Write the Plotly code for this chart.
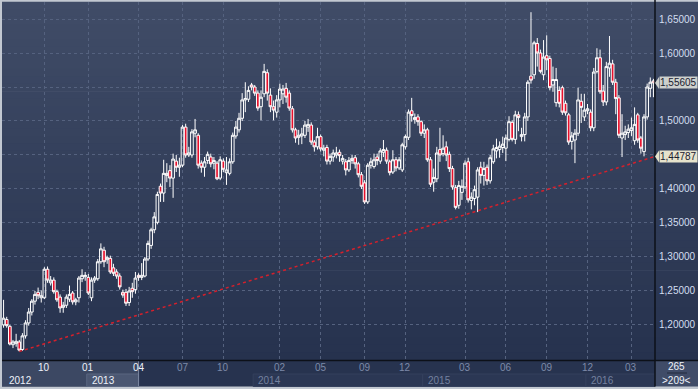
import plotly.graph_objects as go

# ---------------- data (weekly candles) ----------------
opens = [
    1.200, 1.208, 1.198, 1.171, 1.173, 1.175, 1.164, 1.184, 1.203, 1.219,
    1.235, 1.248, 1.240, 1.240, 1.282, 1.262, 1.266, 1.249, 1.241, 1.226,
    1.229, 1.238, 1.247, 1.234, 1.240, 1.268, 1.271, 1.270, 1.240, 1.266,
    1.268, 1.293, 1.310, 1.296, 1.298, 1.284, 1.278, 1.272, 1.248, 1.248,
    1.233, 1.254, 1.252, 1.273, 1.270, 1.272, 1.297, 1.317, 1.340, 1.351,
    1.404, 1.394, 1.420, 1.427, 1.416, 1.441, 1.432, 1.435, 1.491, 1.450,
    1.450, 1.482, 1.479, 1.438, 1.432, 1.442, 1.447, 1.438, 1.438, 1.416,
    1.441, 1.424, 1.423, 1.440, 1.478, 1.487, 1.504, 1.531, 1.532, 1.553,
    1.550, 1.541, 1.521, 1.540, 1.571, 1.538, 1.521, 1.513, 1.531, 1.540,
    1.548, 1.541, 1.518, 1.487, 1.476, 1.478, 1.479, 1.491, 1.494, 1.469,
    1.462, 1.477, 1.457, 1.461, 1.441, 1.447, 1.450, 1.454, 1.441, 1.440,
    1.428, 1.442, 1.446, 1.437, 1.421, 1.409, 1.381, 1.435, 1.433, 1.447,
    1.441, 1.454, 1.457, 1.440, 1.425, 1.443, 1.431, 1.428, 1.462, 1.476,
    1.515, 1.502, 1.506, 1.499, 1.482, 1.487, 1.443, 1.410, 1.415, 1.458,
    1.452, 1.462, 1.451, 1.430, 1.402, 1.376, 1.395, 1.403, 1.440, 1.383,
    1.386, 1.388, 1.432, 1.420, 1.432, 1.412, 1.440, 1.456, 1.458, 1.461,
    1.460, 1.473, 1.498, 1.473, 1.509, 1.477, 1.480, 1.506, 1.566, 1.568,
    1.614, 1.600, 1.568, 1.596, 1.592, 1.553, 1.527, 1.545, 1.549, 1.526,
    1.509, 1.470, 1.472, 1.482, 1.529, 1.506, 1.515, 1.513, 1.490, 1.573,
    1.593, 1.544, 1.528, 1.578, 1.584, 1.557, 1.534, 1.475, 1.480, 1.483,
    1.486, 1.471, 1.509, 1.475, 1.455, 1.506, 1.548, 1.559,
]
highs = [
    1.237, 1.212, 1.200, 1.178, 1.187, 1.178, 1.188, 1.207, 1.225, 1.238,
    1.250, 1.255, 1.251, 1.285, 1.286, 1.272, 1.270, 1.252, 1.245, 1.234,
    1.245, 1.258, 1.250, 1.240, 1.272, 1.282, 1.278, 1.275, 1.270, 1.272,
    1.297, 1.320, 1.315, 1.302, 1.302, 1.290, 1.282, 1.276, 1.252, 1.253,
    1.256, 1.262, 1.278, 1.276, 1.291, 1.300, 1.324, 1.343, 1.366, 1.396,
    1.408, 1.443, 1.438, 1.435, 1.452, 1.450, 1.446, 1.494, 1.496, 1.462,
    1.488, 1.503, 1.482, 1.442, 1.447, 1.455, 1.452, 1.447, 1.441, 1.448,
    1.445, 1.447, 1.445, 1.483, 1.500, 1.512, 1.541, 1.557, 1.551, 1.556,
    1.553, 1.545, 1.545, 1.584, 1.576, 1.548, 1.530, 1.538, 1.555, 1.553,
    1.556, 1.545, 1.522, 1.490, 1.487, 1.490, 1.500, 1.503, 1.498, 1.472,
    1.490, 1.480, 1.465, 1.465, 1.452, 1.458, 1.462, 1.458, 1.450, 1.444,
    1.447, 1.450, 1.450, 1.440, 1.425, 1.413, 1.438, 1.446, 1.452, 1.452,
    1.460, 1.472, 1.461, 1.443, 1.457, 1.447, 1.447, 1.468, 1.480, 1.517,
    1.534, 1.511, 1.510, 1.501, 1.495, 1.490, 1.447, 1.430, 1.462, 1.490,
    1.479, 1.470, 1.455, 1.434, 1.406, 1.412, 1.414, 1.442, 1.446, 1.395,
    1.405, 1.432, 1.440, 1.440, 1.436, 1.450, 1.465, 1.474, 1.470, 1.477,
    1.480, 1.507, 1.501, 1.515, 1.514, 1.490, 1.512, 1.560, 1.660, 1.618,
    1.622, 1.605, 1.619, 1.626, 1.596, 1.580, 1.578, 1.551, 1.552, 1.530,
    1.512, 1.484, 1.488, 1.549, 1.540, 1.540, 1.525, 1.517, 1.578, 1.607,
    1.605, 1.553, 1.587, 1.625, 1.590, 1.562, 1.538, 1.510, 1.493, 1.495,
    1.505, 1.520, 1.512, 1.478, 1.510, 1.555, 1.564, 1.562,
]
lows = [
    1.196, 1.196, 1.170, 1.166, 1.168, 1.161, 1.162, 1.180, 1.199, 1.214,
    1.230, 1.238, 1.233, 1.238, 1.262, 1.258, 1.246, 1.234, 1.218, 1.218,
    1.225, 1.234, 1.230, 1.229, 1.233, 1.263, 1.265, 1.244, 1.235, 1.262,
    1.265, 1.290, 1.285, 1.290, 1.275, 1.272, 1.268, 1.252, 1.240, 1.228,
    1.228, 1.240, 1.246, 1.265, 1.266, 1.270, 1.294, 1.312, 1.335, 1.348,
    1.381, 1.381, 1.410, 1.403, 1.387, 1.425, 1.418, 1.432, 1.446, 1.447,
    1.446, 1.476, 1.430, 1.424, 1.418, 1.437, 1.432, 1.429, 1.413, 1.413,
    1.425, 1.406, 1.420, 1.437, 1.474, 1.483, 1.500, 1.513, 1.528, 1.545,
    1.537, 1.515, 1.501, 1.535, 1.530, 1.513, 1.501, 1.505, 1.520, 1.525,
    1.527, 1.515, 1.483, 1.468, 1.465, 1.466, 1.475, 1.484, 1.465, 1.455,
    1.458, 1.455, 1.448, 1.436, 1.436, 1.440, 1.445, 1.440, 1.436, 1.420,
    1.425, 1.437, 1.430, 1.417, 1.400, 1.378, 1.378, 1.430, 1.430, 1.435,
    1.437, 1.447, 1.437, 1.420, 1.422, 1.426, 1.428, 1.425, 1.458, 1.472,
    1.499, 1.496, 1.493, 1.478, 1.475, 1.440, 1.403, 1.396, 1.410, 1.440,
    1.448, 1.441, 1.425, 1.399, 1.370, 1.371, 1.384, 1.400, 1.380, 1.370,
    1.376, 1.366, 1.408, 1.405, 1.406, 1.408, 1.437, 1.445, 1.446, 1.453,
    1.441, 1.470, 1.470, 1.466, 1.485, 1.470, 1.470, 1.500, 1.555, 1.562,
    1.580, 1.570, 1.560, 1.575, 1.545, 1.543, 1.521, 1.520, 1.509, 1.508,
    1.465, 1.458, 1.438, 1.478, 1.497, 1.500, 1.510, 1.485, 1.485, 1.570,
    1.540, 1.522, 1.523, 1.565, 1.553, 1.510, 1.475, 1.447, 1.472, 1.475,
    1.478, 1.465, 1.468, 1.452, 1.448, 1.502, 1.535, 1.535,
]
closes = [
    1.210, 1.199, 1.172, 1.175, 1.176, 1.163, 1.184, 1.203, 1.219, 1.235,
    1.245, 1.243, 1.243, 1.282, 1.266, 1.266, 1.249, 1.237, 1.225, 1.229,
    1.241, 1.245, 1.234, 1.237, 1.269, 1.273, 1.273, 1.247, 1.266, 1.269,
    1.293, 1.312, 1.293, 1.299, 1.278, 1.276, 1.272, 1.256, 1.244, 1.232,
    1.250, 1.249, 1.269, 1.270, 1.273, 1.297, 1.320, 1.340, 1.359, 1.392,
    1.394, 1.423, 1.423, 1.416, 1.444, 1.432, 1.435, 1.491, 1.450, 1.453,
    1.484, 1.487, 1.435, 1.432, 1.440, 1.451, 1.437, 1.442, 1.415, 1.443,
    1.429, 1.428, 1.440, 1.479, 1.491, 1.504, 1.531, 1.533, 1.545, 1.550,
    1.541, 1.519, 1.535, 1.573, 1.541, 1.521, 1.516, 1.531, 1.547, 1.547,
    1.535, 1.519, 1.487, 1.475, 1.479, 1.481, 1.494, 1.495, 1.469, 1.462,
    1.477, 1.459, 1.460, 1.441, 1.448, 1.453, 1.453, 1.449, 1.445, 1.428,
    1.442, 1.445, 1.437, 1.421, 1.404, 1.381, 1.435, 1.440, 1.443, 1.442,
    1.456, 1.458, 1.441, 1.424, 1.443, 1.431, 1.443, 1.465, 1.477, 1.513,
    1.508, 1.505, 1.499, 1.482, 1.487, 1.443, 1.407, 1.417, 1.453, 1.450,
    1.460, 1.450, 1.430, 1.403, 1.373, 1.405, 1.404, 1.438, 1.384, 1.388,
    1.399, 1.428, 1.420, 1.430, 1.412, 1.446, 1.459, 1.461, 1.463, 1.466,
    1.475, 1.499, 1.473, 1.509, 1.505, 1.480, 1.506, 1.557, 1.560, 1.615,
    1.600, 1.573, 1.594, 1.590, 1.549, 1.561, 1.561, 1.526, 1.513, 1.512,
    1.469, 1.478, 1.482, 1.531, 1.520, 1.516, 1.518, 1.490, 1.572, 1.593,
    1.543, 1.528, 1.580, 1.585, 1.557, 1.533, 1.479, 1.482, 1.484, 1.488,
    1.490, 1.495, 1.472, 1.460, 1.506, 1.550, 1.557, 1.55605,
]
bars = list(range(len(closes)))

month_ticks = [13, 27, 43, 57, 70, 88, 101, 115, 128, 147, 160, 173, 186, 200]
month_labels = ["10", "01", "04", "07", "10", "02", "05", "09", "12", "03", "06", "09", "12", "03"]
year_starts = [0, 27, 80, 134, 186]
year_labels = ["2012", "2013", "2014", "2015", "2016"]
price_ticks = [1.20, 1.25, 1.30, 1.35, 1.40, 1.45, 1.50, 1.55, 1.60, 1.65]
# 1,45000 and 1,55000 sit under the price flags in the reference, so they show no text
price_tick_labels = ["1,20000", "1,25000", "1,30000", "1,35000", "1,40000",
                     "", "1,50000", "", "1,60000", "1,65000"]
trend_x = [5, 207.5]
trend_y = [1.161, 1.44787]
last_price = 1.55605
last_price_label = "1,55605"
trend_price = 1.44787
trend_price_label = "1,44787"
bars_total = "265"
bars_visible = ">209<"
highlight_end = 43

# ---------------- figure ----------------
FONT = "Liberation Sans"
W, H = 698, 389
ML, MR, MT, MB = 2, 43, 2, 29
PW, PH = W - ML - MR, H - MT - MB
XR = (W - ML) / PW            # paper x of the right window edge
Y_BAND_TOP = -1 / PH          # just below plot
Y_ROW = -14 / PH              # row divider in the axis band
Y_BAND_BOT = -26.5 / PH

fig = go.Figure()

fig.add_trace(go.Scatter(
    x=trend_x, y=trend_y, mode="lines",
    line=dict(color="#d4202c", width=1.5, dash="dot"),
    hoverinfo="skip", showlegend=False))

fig.add_trace(go.Candlestick(
    x=bars, open=opens, high=highs, low=lows, close=closes,
    increasing=dict(line=dict(color="#ffffff", width=1), fillcolor="rgba(0,0,0,0)"),
    decreasing=dict(line=dict(color="#ffffff", width=1), fillcolor="#e8102c"),
    whiskerwidth=0, showlegend=False, hoverinfo="skip"))

shapes = []
# vertical gradient background (plot + right price panel)
top_c = (64, 76, 103)
bot_c = (38, 50, 78)
n = 48
for k in range(n):
    t = k / (n - 1)
    c = tuple(round(top_c[j] + (bot_c[j] - top_c[j]) * t) for j in range(3))
    y1 = 1 - k / n
    y0 = 1 - (k + 1) / n
    shapes.append(dict(type="rect", xref="paper", yref="paper", x0=0, x1=XR + 0.01,
                       y0=y0 - 0.001, y1=y1 + 0.001, fillcolor="rgb(%d,%d,%d)" % c,
                       line=dict(width=0), layer="below"))
# axis band
shapes.append(dict(type="rect", xref="paper", yref="paper", x0=0, x1=1,
                   y0=Y_BAND_BOT, y1=Y_BAND_TOP, fillcolor="#27334f",
                   line=dict(width=0), layer="below"))
# year boxes (lower row)
for k in range(2, len(year_starts)):
    x1 = year_starts[k + 1] - 0.5 if k + 1 < len(year_starts) else bars[-1] + 0.5
    shapes.append(dict(type="rect", xref="x", yref="paper", x0=year_starts[k] - 0.5, x1=x1,
                       y0=Y_BAND_BOT, y1=Y_ROW, fillcolor="#2b3754",
                       line=dict(width=1, color="#34405d"), layer="below"))
# highlighted (visible-window) region
shapes.append(dict(type="rect", xref="x", yref="paper", x0=-0.5, x1=highlight_end,
                   y0=Y_BAND_BOT, y1=Y_BAND_TOP, fillcolor="#3c4863",
                   line=dict(width=0), layer="below"))
shapes.append(dict(type="rect", xref="x", yref="paper", x0=year_starts[1] - 0.5, x1=highlight_end,
                   y0=Y_BAND_BOT, y1=Y_ROW, fillcolor="#4b5772",
                   line=dict(width=1, color="#5a6680"), layer="below"))
shapes.append(dict(type="line", xref="x", yref="paper", x0=highlight_end, x1=highlight_end,
                   y0=Y_BAND_BOT, y1=Y_BAND_TOP, line=dict(width=1, color="#7a86a0")))
# corner box
shapes.append(dict(type="rect", xref="paper", yref="paper", x0=1, x1=XR + 0.01,
                   y0=Y_BAND_BOT, y1=Y_BAND_TOP, fillcolor="#404c68",
                   line=dict(width=0), layer="below"))
shapes.append(dict(type="line", xref="paper", yref="paper", x0=1 + 12 / PW, x1=1 + 32 / PW,
                   y0=Y_ROW + 1 / PH, y1=Y_ROW + 1 / PH, line=dict(width=1, color="#222a3c")))
# black separators
shapes.append(dict(type="line", xref="paper", yref="paper", x0=0, x1=XR + 0.01,
                   y0=-0.5 / PH, y1=-0.5 / PH, line=dict(width=1.5, color="#0c1018")))
shapes.append(dict(type="line", xref="paper", yref="paper", x0=1, x1=1,
                   y0=Y_BAND_BOT, y1=1.01, line=dict(width=1.5, color="#0c1018")))
# price flag pointers
for val, col in ((last_price, "#cdd0cd"), (trend_price, "#e6e3cc")):
    shapes.append(dict(type="path", xref="paper", yref="y", xsizemode="pixel", ysizemode="pixel",
                       xanchor=1, yanchor=val, path="M 0,0 L 4,6 L 4,-6 Z",
                       fillcolor=col, line=dict(width=0)))

annotations = []
for tv, lab in zip(month_ticks, month_labels):
    bright = tv <= highlight_end
    annotations.append(dict(x=tv, xref="x", y=(Y_BAND_TOP + Y_ROW) / 2, yref="paper",
                            text=lab, showarrow=False, xanchor="center", yanchor="middle",
                            font=dict(family=FONT, size=10,
                                      color="#eef2fa" if bright else "#7d8aa8")))
for k, (ys, lab) in enumerate(zip(year_starts, year_labels)):
    annotations.append(dict(x=ys - 0.5, xref="x", y=(Y_ROW + Y_BAND_BOT) / 2, yref="paper",
                            text=lab, showarrow=False, xanchor="left", yanchor="middle",
                            xshift=5 if k == 0 else 3,
                            font=dict(family=FONT, size=10,
                                      color="#eef2fa" if k < 2 else "#74819f")))
annotations.append(dict(x=1 + 21 / PW, xref="paper", y=(Y_BAND_TOP + Y_ROW) / 2 + 1 / PH, yref="paper",
                        text=bars_total, showarrow=False, xanchor="center", yanchor="middle",
                        font=dict(family=FONT, size=10, color="#eef2fa")))
annotations.append(dict(x=1 + 21 / PW, xref="paper", y=(Y_ROW + Y_BAND_BOT) / 2, yref="paper",
                        text=bars_visible, showarrow=False, xanchor="center", yanchor="middle",
                        font=dict(family=FONT, size=10, color="#eef2fa")))
for val, lab, col in ((last_price, last_price_label, "#cdd0cd"),
                      (trend_price, trend_price_label, "#e6e3cc")):
    annotations.append(dict(x=1, xref="paper", y=val, yref="y", text=lab, showarrow=False,
                            xanchor="left", yanchor="middle", xshift=4,
                            bgcolor=col, borderpad=0,
                            font=dict(family=FONT, size=10, color="#1a2030")))

fig.update_layout(
    width=W, height=H,
    margin=dict(l=ML, r=MR, t=MT, b=MB, pad=0),
    paper_bgcolor="#c2c8d1",
    plot_bgcolor="rgba(0,0,0,0)",
    showlegend=False,
    hovermode=False,
    boxgap=0.15,
    boxgroupgap=0,
    shapes=shapes,
    annotations=annotations,
    xaxis=dict(range=[-0.5, bars[-1] + 0.5], tickvals=month_ticks, showticklabels=False,
               showgrid=True, gridcolor="#55627f", griddash="dot", gridwidth=1,
               zeroline=False, showline=False, ticks="", rangeslider=dict(visible=False),
               fixedrange=True),
    yaxis=dict(side="right", range=[1.1485, 1.675], tickvals=price_ticks,
               ticktext=price_tick_labels, showgrid=True, gridcolor="#55627f",
               griddash="dot", gridwidth=1, zeroline=False, showline=False, ticks="",
               ticklabelstandoff=3,
               tickfont=dict(family=FONT, size=10, color="#d3def0"), fixedrange=True),
)

fig.write_html("out.html", config={"displayModeBar": False},
               post_script="document.body.style.margin='0';document.body.style.overflow='hidden';")
